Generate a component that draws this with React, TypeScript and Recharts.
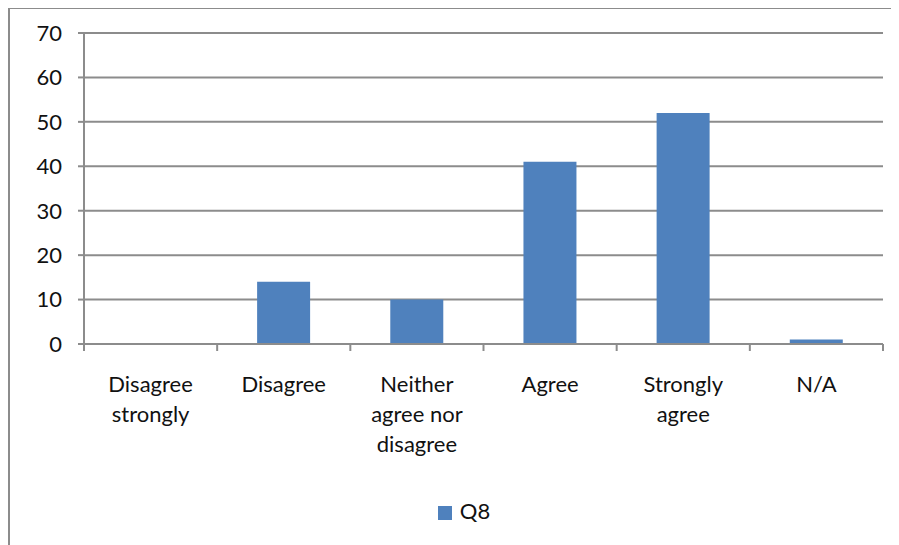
import { Bar, BarChart, CartesianGrid, Legend, XAxis, YAxis } from 'recharts';

const categories = [
  ['Disagree', 'strongly'],
  ['Disagree'],
  ['Neither', 'agree nor', 'disagree'],
  ['Agree'],
  ['Strongly', 'agree'],
  ['N/A'],
];
const q8Values = [0, 14, 10, 41, 52, 1];
const yTicks = [0, 10, 20, 30, 40, 50, 60, 70];

const data = categories.map((lines, i) => ({ name: lines.join(' '), lines, Q8: q8Values[i] }));

const CHART_W = 891;
const CHART_H = 537;
const MARGIN = { top: 24, right: 18, left: 0, bottom: 0 };
const Y_AXIS_W = 74;
const PLOT_W = CHART_W - MARGIN.left - MARGIN.right - Y_AXIS_W;
const BAND = PLOT_W / categories.length;
const FONT = 'Lato, "Liberation Sans", sans-serif';
const GRID = '#8c8c8c';
const BLUE = '#4f81bd';

function CategoryTick(props: any) {
  const { x, y, payload, index } = props;
  const lines: string[] = data[index]?.lines ?? [payload.value];
  const left = x - BAND / 2;
  const right = x + BAND / 2;
  return (
    <g>
      <line x1={left} y1={y} x2={left} y2={y + 7} stroke={GRID} strokeWidth={2} />
      {index === categories.length - 1 && (
        <line x1={right} y1={y} x2={right} y2={y + 7} stroke={GRID} strokeWidth={2} />
      )}
      <text x={x} y={y} textAnchor="middle" fill="#111" fontSize={22} fontFamily={FONT}>
        {lines.map((l, i) => (
          <tspan key={i} x={x} dy={i === 0 ? 48 : 30}>
            {l}
          </tspan>
        ))}
      </text>
    </g>
  );
}

export default function App() {
  return (
    <div
      style={{
        width: CHART_W,
        height: CHART_H,
        borderTop: `2px solid ${GRID}`,
        borderLeft: `2px solid ${GRID}`,
        marginTop: -1,
        overflow: 'hidden',
        position: 'relative',
      }}
    >
      <BarChart width={CHART_W} height={CHART_H} data={data} margin={MARGIN} barCategoryGap="30%">
        <CartesianGrid vertical={false} stroke={GRID} strokeWidth={2} />
        <XAxis
          dataKey="name"
          height={CHART_H - 335 - MARGIN.bottom}
          interval={0}
          tickLine={false}
          tickSize={0}
          tickMargin={0}
          stroke={GRID}
          strokeWidth={2}
          tick={<CategoryTick />}
        />
        <YAxis
          width={Y_AXIS_W}
          domain={[0, 70]}
          ticks={yTicks}
          interval={0}
          tickSize={6}
          tickMargin={16}
          stroke={GRID}
          strokeWidth={2}
          tick={{ fill: '#111', fontSize: 22, fontFamily: FONT }}
        />
        <Legend
          verticalAlign="middle"
          align="center"
          iconType="square"
          iconSize={14}
          wrapperStyle={{ top: 488, left: 0, width: 918, fontFamily: FONT, fontSize: 22 }}
          formatter={(v: string) => <span style={{ color: '#111', marginLeft: 4 }}>{v}</span>}
        />
        <Bar dataKey="Q8" fill={BLUE} isAnimationActive={false} />
      </BarChart>
    </div>
  );
}
